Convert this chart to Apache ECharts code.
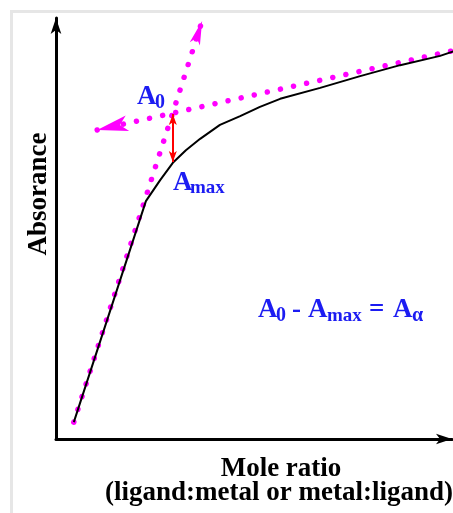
<!DOCTYPE html>
<html>
<head>
<meta charset="utf-8">
<script src="https://cdn.jsdelivr.net/npm/echarts@6/dist/echarts.min.js"></script>
<style>
  html, body { margin: 0; padding: 0; background: #fff; }
  #chart { width: 453px; height: 513px; }
</style>
</head>
<body>
<div id="chart"></div>
<script>
// titration curve (absorbance vs mole ratio)
const curveX = [0.45, 2.27, 2.63, 2.95, 3.28, 3.64, 4.14, 4.65, 5.15, 5.66, 6.67, 7.68, 8.69, 9.70, 10.08]
const curveY = [0.40, 5.65, 6.15, 6.56, 6.86, 7.13, 7.46, 7.67, 7.89, 8.08, 8.34, 8.62, 8.88, 9.10, 9.22]
// extrapolated straight parts (dotted), arrow tips at the ends
const steepLine = [[0.45, 0.40], [3.69, 9.93]]
const flatLine = [[1.04, 7.34], [10.10, 9.24]]
// A0 - Amax gap
const gapLine = [[2.95, 7.72], [2.95, 6.58]]

const serif = '"Liberation Serif", "Times New Roman", serif'
const blue = '#1c1cf2'
const magenta = '#ff00ff'

const chart = echarts.init(document.getElementById('chart'))

function axis() {
  return {
    type: 'value',
    min: 0,
    max: 10,
    axisLine: {
      show: true,
      symbol: ['none', 'arrow'],
      symbolSize: [8, 16],
      lineStyle: { color: '#000', width: 3 }
    },
    axisTick: { show: false },
    axisLabel: { show: false },
    splitLine: { show: false }
  }
}

// symbolSize here is [startSize, endSize], each one [width, length]
function dotted(coords, symbol, size) {
  return {
    type: 'lines',
    coordinateSystem: 'cartesian2d',
    clip: false,
    silent: true,
    symbol: symbol,
    symbolSize: [size, size],
    lineStyle: { color: magenta, width: 5.5, type: [0.01, 13.4], cap: 'round', opacity: 1 },
    data: [{ coords: coords }]
  }
}

// plain text pieces (big letter + subscript)
function txt(str, x, y, size, color) {
  return {
    type: 'text',
    x: x,
    y: y,
    silent: true,
    style: {
      text: str,
      font: 'bold ' + size + 'px ' + serif,
      fill: color,
      textAlign: 'left',
      textVerticalAlign: 'middle'
    }
  }
}

const option = {
  animation: false,
  backgroundColor: '#fff',
  grid: { left: 56, right: 1, top: 18, bottom: 74, containLabel: false, outerBoundsMode: 'none' },
  xAxis: axis(),
  yAxis: axis(),
  series: [
    {
      type: 'line',
      data: curveX.map((x, i) => [x, curveY[i]]),
      showSymbol: false,
      clip: false,
      silent: true,
      lineStyle: { color: '#000', width: 2 },
      z: 3
    },
    dotted(steepLine, ['none', 'arrow'], [8, 24]),
    dotted(flatLine, ['arrow', 'none'], [12, 31]),
    {
      type: 'lines',
      coordinateSystem: 'cartesian2d',
      clip: false,
      silent: true,
      symbol: ['arrow', 'arrow'],
      symbolSize: [[6, 11], [6, 11]],
      lineStyle: { color: '#ff0000', width: 2, opacity: 1 },
      data: [{ coords: gapLine }],
      z: 4
    }
  ],
  graphic: [
    // light frame of the original figure
    { type: 'line', silent: true, shape: { x1: 10, y1: 11.5, x2: 453, y2: 11.5 }, style: { stroke: '#e6e6e6', lineWidth: 3 } },
    { type: 'line', silent: true, shape: { x1: 11.5, y1: 10, x2: 11.5, y2: 513 }, style: { stroke: '#e6e6e6', lineWidth: 3 } },
    {
      type: 'text', x: 39, y: 194, rotation: Math.PI / 2, silent: true,
      style: { text: 'Absorance', font: 'bold 27px ' + serif, fill: '#000', textAlign: 'center', textVerticalAlign: 'middle' }
    },
    {
      type: 'text', x: 281, y: 469, silent: true,
      style: { text: 'Mole ratio', font: 'bold 27px ' + serif, fill: '#000', textAlign: 'center', textVerticalAlign: 'middle' }
    },
    {
      type: 'text', x: 279, y: 493, silent: true,
      style: { text: '(ligand:metal or metal:ligand)', font: 'bold 27px ' + serif, fill: '#000', textAlign: 'center', textVerticalAlign: 'middle' }
    },
    txt('A', 137, 97, 27, blue),
    txt('0', 155, 103, 20, blue),
    txt('A', 173, 183, 27, blue),
    txt('max', 190, 188, 19, blue),
    txt('A', 258, 310, 27, blue),
    txt('0', 276, 316, 20, blue),
    txt('-', 292, 310, 27, blue),
    txt('A', 308, 310, 27, blue),
    txt('max', 327, 316, 19, blue),
    txt('=', 369, 310, 27, blue),
    txt('A', 393, 310, 27, blue),
    txt('α', 412, 316, 20, blue)
  ]
}

chart.setOption(option)
</script>
</body>
</html>
